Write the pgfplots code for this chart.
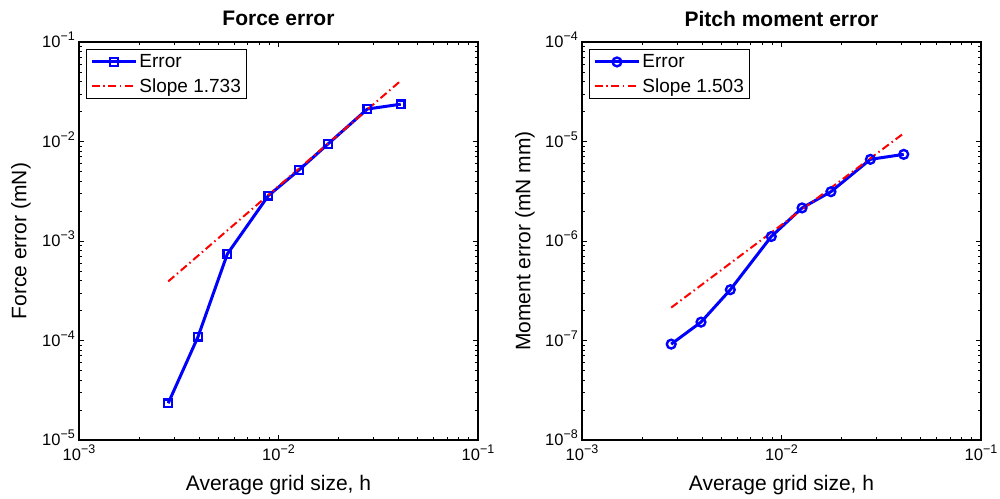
\documentclass[border=0pt]{standalone}
\usepackage{fontspec}
\setmainfont{Liberation Sans}
\usepackage{pgfplots}
\pgfplotsset{compat=1.18}
\newcommand{\tp}[1]{10\raisebox{7pt}{\fontsize{12.5}{12.5}\selectfont −#1}}

\pgfplotsset{
  legend image code/.code={\draw[mark repeat=2,mark phase=2,#1] plot coordinates {(0pt,0pt)(22pt,0pt)(44pt,0pt)};},
  errline/.style={blue, line width=3pt, mark options={solid, line width=2.4pt}},
  slopeline/.style={red, line width=2pt, dash pattern=on 8pt off 3.5pt on 1.5pt off 3.5pt, mark=none},
}

\pgfplotstableread{
x y
0.0028 2.34e-5
0.00395 1.09e-4
0.00554 7.4e-4
0.00889 2.85e-3
0.01268 5.18e-3
0.0177 9.44e-3
0.0279 0.0212
0.041 0.0237
}\forcedata
\pgfplotstableread{
x y
0.0028 3.92e-4
0.041 0.0408
}\forceslope
\pgfplotstableread{
x y
0.0028 9.2e-8
0.00395 1.53e-7
0.00554 3.24e-7
0.00889 1.11e-6
0.01268 2.15e-6
0.0177 3.13e-6
0.0279 6.62e-6
0.041 7.43e-6
}\momentdata
\pgfplotstableread{
x y
0.0028 2.14e-7
0.041 1.21e-5
}\momentslope

\begin{document}
\begin{tikzpicture}
\begin{loglogaxis}[
  scale only axis, width=399pt, height=398pt,
  xmin=1e-3, xmax=1e-1,
  xtick={1e-3,1e-2,1e-1}, xticklabels={\tp{3},\tp{2},\tp{1}},
  minor xtick={2e-3,3e-3,4e-3,5e-3,6e-3,7e-3,8e-3,9e-3,2e-2,3e-2,4e-2,5e-2,6e-2,7e-2,8e-2,9e-2},
  tick align=inside,
  major tick length=5pt, minor tick length=3pt,
  tick style={black, line width=0.9pt},
  axis line style={line width=1.6pt},
  tick label style={font=\fontsize{16.5}{16.5}\selectfont},
  xticklabel style={anchor=north, yshift=-5pt, inner sep=0pt},
  yticklabel style={anchor=base east, xshift=-4pt, yshift=-5.5pt, inner sep=0pt},
  every axis x label/.style={at={(axis description cs:0.5,0)}, anchor=base, yshift=-50pt, font=\fontsize{21}{24}\selectfont},
  every axis y label/.style={at={(axis description cs:0,0.5)}, rotate=90, anchor=center, yshift=58pt, font=\fontsize{21}{24}\selectfont},
  every axis title/.style={at={(axis description cs:0.5,1)}, anchor=base, yshift=16pt, font=\fontsize{21}{24}\selectfont\bfseries},
  legend style={at={(axis description cs:0.0175,0.982)}, anchor=north west, draw=black, line width=1pt,
     font=\fontsize{19}{20}\selectfont, inner xsep=4pt, inner ysep=3pt, row sep=5pt, cells={anchor=west}},
  ymin=1e-5, ymax=1e-1,
  ytick={1e-5,1e-4,1e-3,1e-2,1e-1}, yticklabels={\tp{5},\tp{4},\tp{3},\tp{2},\tp{1}},
  minor ytick={2e-5,3e-5,4e-5,5e-5,6e-5,7e-5,8e-5,9e-5,2e-4,3e-4,4e-4,5e-4,6e-4,7e-4,8e-4,9e-4,2e-3,3e-3,4e-3,5e-3,6e-3,7e-3,8e-3,9e-3,2e-2,3e-2,4e-2,5e-2,6e-2,7e-2,8e-2,9e-2},
  title={Force error}, xlabel={Average grid size, h}, ylabel={Force error (mN)}]
\addplot[errline, mark=square, mark size=3.9pt] table[x=x,y=y] {\forcedata};
\addlegendentry{Error}
\addplot[slopeline] table[x=x,y=y] {\forceslope};
\addlegendentry{Slope 1.733}
\end{loglogaxis}
\begin{loglogaxis}[at={(503pt,0pt)},
  scale only axis, width=399pt, height=398pt,
  xmin=1e-3, xmax=1e-1,
  xtick={1e-3,1e-2,1e-1}, xticklabels={\tp{3},\tp{2},\tp{1}},
  minor xtick={2e-3,3e-3,4e-3,5e-3,6e-3,7e-3,8e-3,9e-3,2e-2,3e-2,4e-2,5e-2,6e-2,7e-2,8e-2,9e-2},
  tick align=inside,
  major tick length=5pt, minor tick length=3pt,
  tick style={black, line width=0.9pt},
  axis line style={line width=1.6pt},
  tick label style={font=\fontsize{16.5}{16.5}\selectfont},
  xticklabel style={anchor=north, yshift=-5pt, inner sep=0pt},
  yticklabel style={anchor=base east, xshift=-4pt, yshift=-5.5pt, inner sep=0pt},
  every axis x label/.style={at={(axis description cs:0.5,0)}, anchor=base, yshift=-50pt, font=\fontsize{21}{24}\selectfont},
  every axis y label/.style={at={(axis description cs:0,0.5)}, rotate=90, anchor=center, yshift=57pt, font=\fontsize{21}{24}\selectfont},
  every axis title/.style={at={(axis description cs:0.5,1)}, anchor=base, yshift=16pt, font=\fontsize{21}{24}\selectfont\bfseries},
  legend style={at={(axis description cs:0.0175,0.982)}, anchor=north west, draw=black, line width=1pt,
     font=\fontsize{19}{20}\selectfont, inner xsep=4pt, inner ysep=3pt, row sep=5pt, cells={anchor=west}},
  ymin=1e-8, ymax=1e-4,
  ytick={1e-8,1e-7,1e-6,1e-5,1e-4}, yticklabels={\tp{8},\tp{7},\tp{6},\tp{5},\tp{4}},
  minor ytick={2e-8,3e-8,4e-8,5e-8,6e-8,7e-8,8e-8,9e-8,2e-7,3e-7,4e-7,5e-7,6e-7,7e-7,8e-7,9e-7,2e-6,3e-6,4e-6,5e-6,6e-6,7e-6,8e-6,9e-6,2e-5,3e-5,4e-5,5e-5,6e-5,7e-5,8e-5,9e-5},
  title={Pitch moment error}, xlabel={Average grid size, h}, ylabel={Moment error (mN mm)}]
\addplot[errline, mark=o, mark size=4.4pt] table[x=x,y=y] {\momentdata};
\addlegendentry{Error}
\addplot[slopeline] table[x=x,y=y] {\momentslope};
\addlegendentry{Slope 1.503}
\end{loglogaxis}
\pgfresetboundingbox
\useasboundingbox (-79pt,-58pt) rectangle (921pt,440pt);
\end{tikzpicture}
\end{document}
